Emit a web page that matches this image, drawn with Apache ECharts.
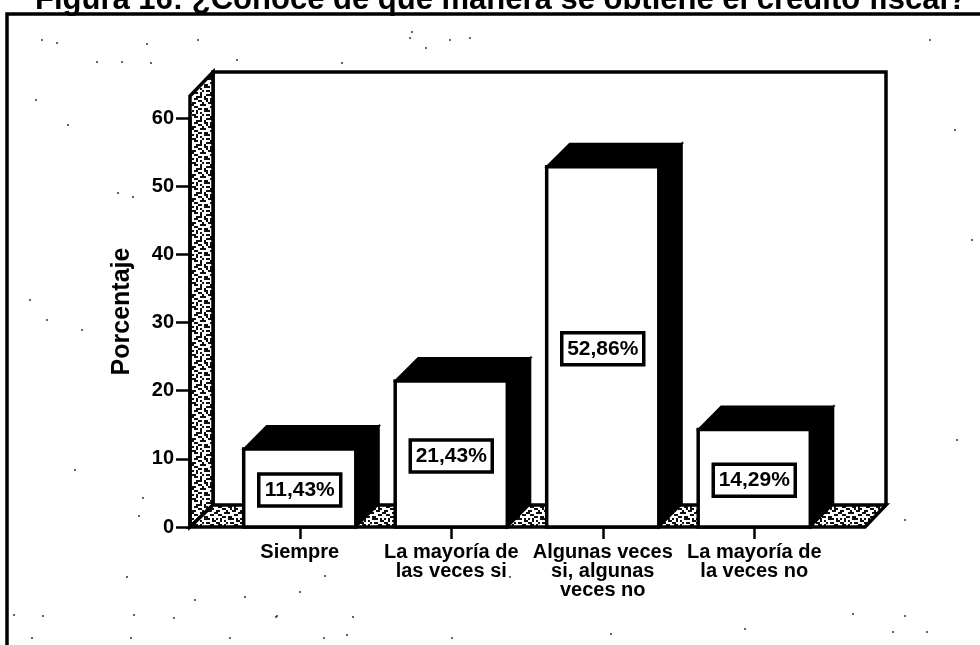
<!DOCTYPE html>
<html>
<head>
<meta charset="utf-8">
<style>
  html, body { margin: 0; padding: 0; background: #fff; }
  #main { width: 980px; height: 645px; }
</style>
<script src="https://cdn.jsdelivr.net/npm/echarts@6/dist/echarts.min.js"></script>
</head>
<body>
<div id="main"></div>
<script>
var titleText = "Figura 16: ¿Conoce de qué manera se obtiene el crédito fiscal?";
var axisName = "Porcentaje";
var categories = ["Siempre", "La mayoría de\nlas veces si", "Algunas veces\nsi, algunas\nveces no", "La mayoría de\nla veces no"];
var values = [11.43, 21.43, 52.86, 14.29];
var yTicks = [0, 10, 20, 30, 40, 50, 60];

var font = '"Liberation Sans", Arial, sans-serif';
var depth = 23;

// scan dirt on the page
var specks = [
  [42, 40], [57, 43], [147, 44], [198, 40], [237, 4], [97, 62], [122, 62], [151, 63], [237, 60], [342, 63],
  [36, 100], [68, 125], [133, 197], [118, 193], [410, 38], [470, 38], [412, 32], [426, 48], [450, 40],
  [30, 300], [47, 320], [82, 330], [75, 470], [143, 498], [139, 516], [195, 600], [245, 597], [300, 592],
  [127, 577], [325, 576], [510, 577], [905, 520], [957, 440], [972, 240], [955, 130], [930, 40], [14, 615],
  [43, 616], [134, 615], [174, 618], [277, 616], [347, 635], [276, 617], [353, 617], [452, 638], [905, 616],
  [853, 614], [893, 632], [927, 632], [32, 638], [131, 638], [230, 638], [324, 638], [611, 634], [745, 629]
];

// speckle for the wall and the floor
var speckleRows = [
  "..###.#...#.",
  ".##...##.#..",
  "...##..#.##.",
  "##...#..##..",
  "#...###....#",
  ".##......##.",
  "...##.##....",
  "#.#...###.#.",
  "..#.#.....##",
  "##...#.##...",
  ".##.#....##.",
  "....#..###.."
];
var speckle = document.createElement("canvas");
speckle.width = 24;
speckle.height = 24;
var sctx = speckle.getContext("2d");
sctx.fillStyle = "#fff";
sctx.fillRect(0, 0, 24, 24);
sctx.fillStyle = "#111";
speckleRows.forEach(function (row, r) {
  row.split("").forEach(function (c, k) {
    if (c === "#") sctx.fillRect(k * 2, r * 2, 2, 2);
  });
});

function renderBar(params, api) {
  var center = api.coord([api.value(0), api.value(1)]);
  var base = api.coord([api.value(0), 0]);
  var w = api.size([1, 0])[0] * 0.74;
  var left = center[0] - w / 2;
  var right = center[0] + w / 2;
  var top = center[1];
  var bottom = base[1];
  var midY = (top + bottom) / 2 + 2;
  var black = { fill: "#000", stroke: "#000", lineWidth: 2 };
  return {
    type: "group",
    children: [
      { type: "polygon", shape: { points: [[left, top], [left + depth, top - depth], [right + depth, top - depth], [right, top]] }, style: black },
      { type: "polygon", shape: { points: [[right, top], [right + depth, top - depth], [right + depth, bottom - depth], [right, bottom]] }, style: black },
      { type: "rect", shape: { x: left, y: top, width: w, height: bottom - top }, style: { fill: "#fff", stroke: "#000", lineWidth: 3.5 } },
      { type: "rect", shape: { x: center[0] - 41, y: midY - 16, width: 82, height: 32 }, style: { fill: "#fff", stroke: "#000", lineWidth: 3.5 } },
      {
        type: "text",
        x: center[0],
        y: midY,
        style: {
          text: api.value(1).toFixed(2).replace(".", ",") + "%",
          font: "bold 21px " + font,
          fill: "#000",
          textAlign: "center",
          textVerticalAlign: "middle"
        }
      }
    ]
  };
}

var graphics = [
  // page frame
  { type: "polyline", shape: { points: [[7, 645], [7, 14], [980, 14]] }, style: { fill: null, stroke: "#000", lineWidth: 3.5 } },
  // back wall
  { type: "polyline", shape: { points: [[213, 505], [213, 72], [886, 72], [886, 505]] }, style: { fill: null, stroke: "#000", lineWidth: 3.5 } },
  // left wall
  { type: "polygon", shape: { points: [[190, 527], [190, 96], [213, 72], [213, 505]] }, style: { fill: { image: speckle, repeat: "repeat" }, stroke: "#000", lineWidth: 3.5 } },
  // floor
  { type: "polygon", shape: { points: [[190, 527], [213, 505], [886, 505], [865, 527]] }, style: { fill: { image: speckle, repeat: "repeat" }, stroke: "#000", lineWidth: 3.5 } }
];
specks.forEach(function (p) {
  graphics.push({ type: "circle", shape: { cx: p[0], cy: p[1], r: 1 }, style: { fill: "#333" } });
});

var chart = echarts.init(document.getElementById("main"), null, { renderer: "canvas" });
chart.setOption({
  animation: false,
  backgroundColor: "#fff",
  title: {
    text: titleText,
    left: 30,
    top: -20,
    textStyle: { fontFamily: font, fontSize: 31, fontWeight: "bold", color: "#000" }
  },
  grid: { left: 224, top: 118, width: 606, height: 409 },
  xAxis: {
    type: "category",
    data: categories,
    axisLine: { show: false },
    axisTick: { show: true, alignWithLabel: true, length: 12, lineStyle: { color: "#000", width: 2.5 } },
    axisLabel: { color: "#000", fontFamily: font, fontSize: 20, fontWeight: "bold", lineHeight: 19, margin: 16, interval: 0 }
  },
  yAxis: {
    type: "value",
    min: yTicks[0],
    max: yTicks[yTicks.length - 1],
    interval: 10,
    offset: 34,
    name: axisName,
    nameLocation: "middle",
    nameGap: 55,
    nameTextStyle: { color: "#000", fontFamily: font, fontSize: 25, fontWeight: "bold", padding: [0, 0, 0, 22] },
    splitLine: { show: false },
    axisLine: { show: true, lineStyle: { color: "#000", width: 3.5 } },
    axisTick: { show: true, length: 14, lineStyle: { color: "#000", width: 2.5 } },
    axisLabel: { color: "#000", fontFamily: font, fontSize: 20, fontWeight: "bold", margin: 16 }
  },
  graphic: graphics,
  series: [{
    type: "custom",
    renderItem: renderBar,
    clip: false,
    encode: { x: 0, y: 1 },
    data: values.map(function (v, i) { return [i, v]; })
  }]
});
</script>
</body>
</html>
